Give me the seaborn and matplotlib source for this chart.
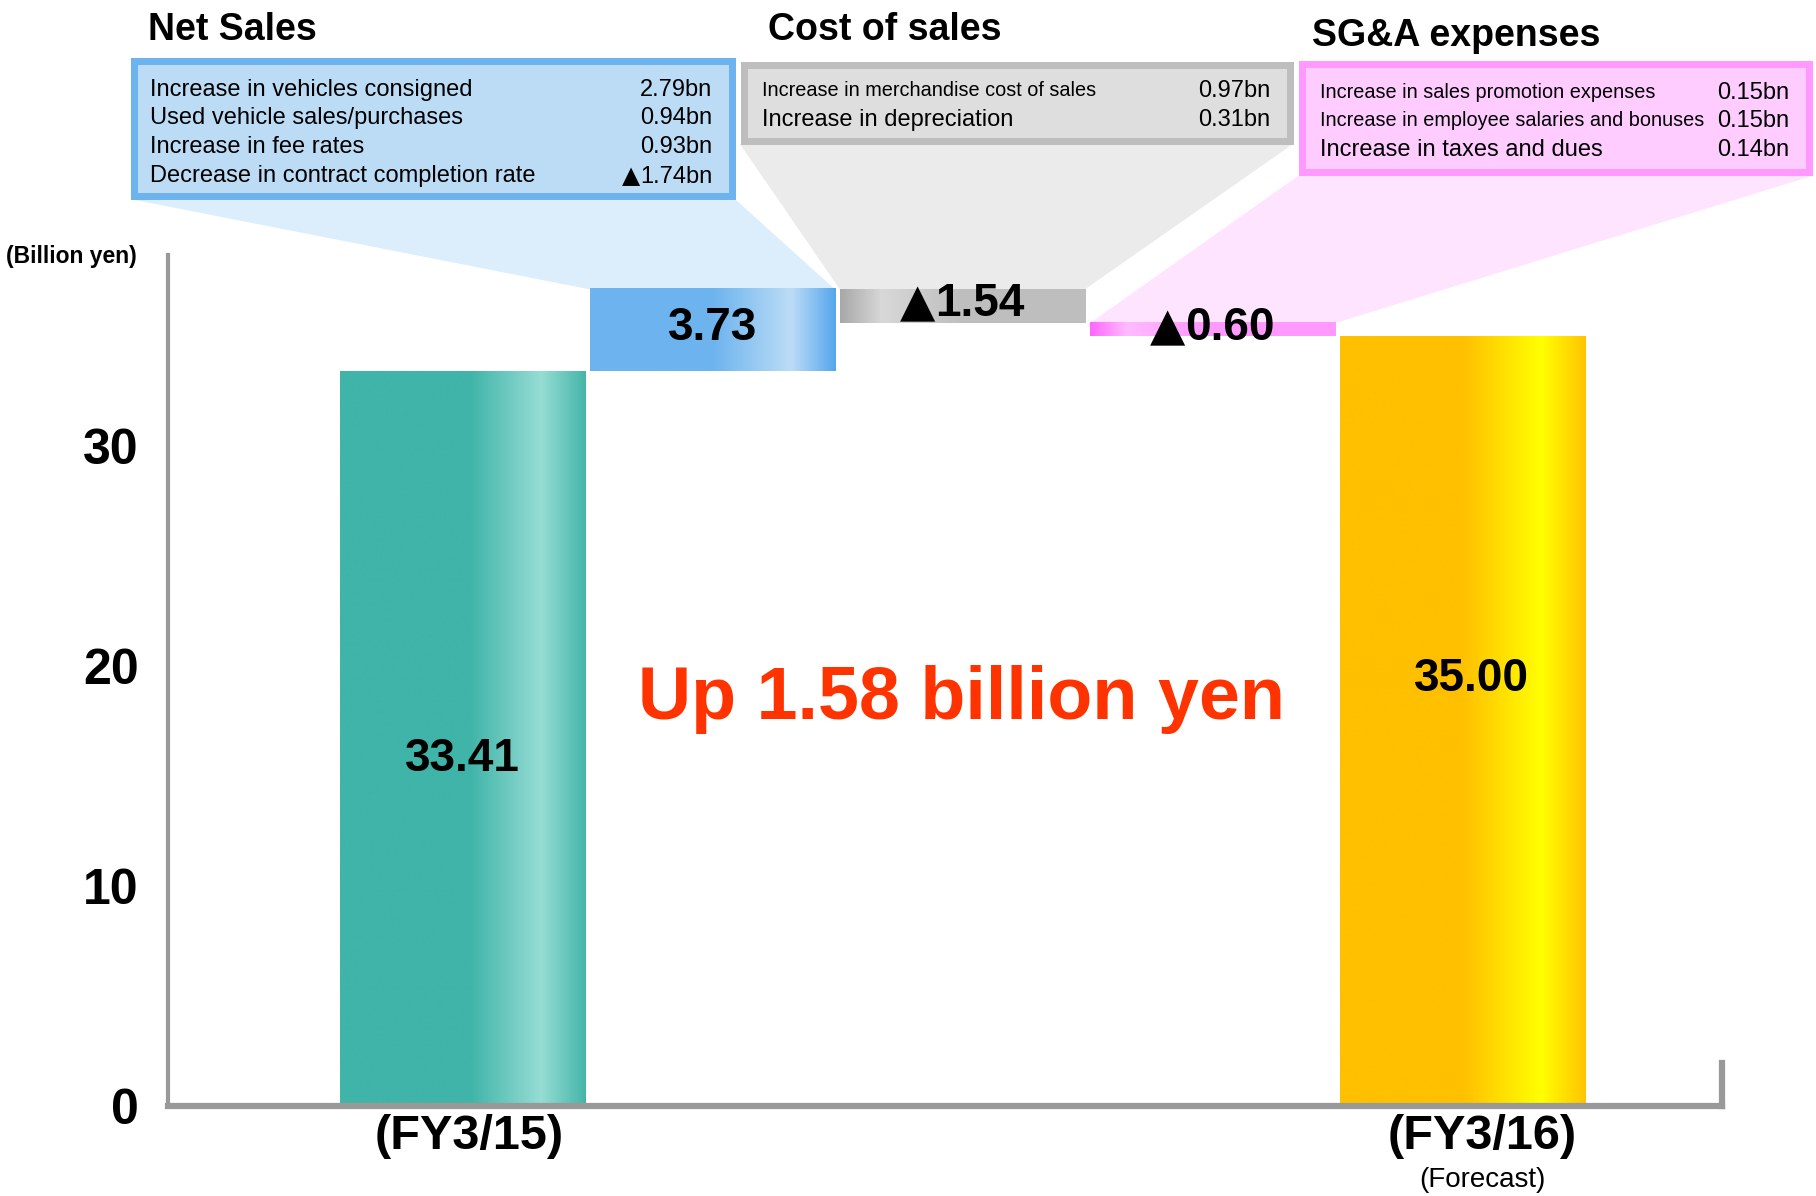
import numpy as np
import pandas as pd
import matplotlib
matplotlib.use("Agg")
import matplotlib.pyplot as plt
from matplotlib.colors import LinearSegmentedColormap
from matplotlib.patches import Polygon, Rectangle
from matplotlib.offsetbox import TextArea, HPacker, AnnotationBbox
import seaborn as sns

# ---- data -------------------------------------------------------------
steps = ["FY3/15", "Net Sales", "Cost of sales", "SG&A expenses", "FY3/16"]
values = [33.41, 3.73, -1.54, -0.60, 35.00]
kinds = ["total", "delta", "delta", "delta", "total"]
bar_labels = ["33.41", "3.73", "▲1.54", "▲0.60", "35.00"]
x_labels = ["(FY3/15)", "(FY3/16)"]
yticks = [0, 10, 20, 30]
unit_label = "(Billion yen)"
change_text = "Up 1.58 billion yen"
forecast_note = "(Forecast)"

net_sales_items = ["Increase in vehicles consigned", "Used vehicle sales/purchases",
                   "Increase in fee rates", "Decrease in contract completion rate"]
net_sales_vals = ["2.79bn", "0.94bn", "0.93bn", "▲1.74bn"]
cost_items = ["Increase in merchandise cost of sales", "Increase in depreciation"]
cost_vals = ["0.97bn", "0.31bn"]
sga_items = ["Increase in sales promotion expenses",
             "Increase in employee salaries and bonuses",
             "Increase in taxes and dues"]
sga_vals = ["0.15bn", "0.15bn", "0.14bn"]

# ---- waterfall geometry ----------------------------------------------
bottoms, heights = [], []
running = 0.0
for v, k in zip(values, kinds):
    if k == "total":
        bottoms.append(0.0)
        heights.append(v)
        running = v
    else:
        bottoms.append(running + min(v, 0.0))
        heights.append(abs(v))
        running += v

# ---- style ------------------------------------------------------------
sns.set_style("white")
regular = ["Liberation Sans", "DejaVu Sans"]
plt.rcParams["font.family"] = regular
plt.rcParams.update({"text.color": "black", "xtick.labelcolor": "black",
                     "ytick.labelcolor": "black"})

W, H = 1816, 1196
def fx(x):
    return x / W
def fy(y):
    return 1 - y / H

gradients = [
    [(0.0, "#40B4A8"), (0.53, "#40B4A8"), (0.82, "#96DDD5"), (1.0, "#45B5A8")],
    [(0.0, "#6DB4EF"), (0.50, "#6DB4EF"), (0.82, "#BCDCF6"), (1.0, "#55A6EC")],
    [(0.0, "#A8A8A8"), (0.17, "#D8D8D8"), (0.50, "#BEBEBE"), (1.0, "#BEBEBE")],
    [(0.0, "#FF66FF"), (0.15, "#FFBBFF"), (0.45, "#FF99FF"), (1.0, "#FF99FF")],
    [(0.0, "#FFC000"), (0.50, "#FFC000"), (0.82, "#FFFF00"), (1.0, "#FFC400")],
]
base_colors = ["#40B4A8", "#6DB4EF", "#BEBEBE", "#FF99FF", "#FFC000"]

fig = plt.figure(figsize=(W / 100, H / 100), dpi=100)
ax = fig.add_axes([fx(168), fy(1106), fx(1722) - fx(168), (1106 - 255) / H])
ax.patch.set_visible(False)

df = pd.DataFrame({"step": steps, "height": heights})
sns.barplot(data=df, x="step", y="height", hue="step", order=steps, hue_order=steps,
            palette=dict(zip(steps, base_colors)), saturation=1, width=0.98,
            legend=False, linewidth=0, ax=ax)

bars = sorted(ax.patches, key=lambda p: p.get_x())
for p, b, h in zip(bars, bottoms, heights):
    p.set_y(b)
    p.set_height(h)

# horizontal shading across each bar
ramp = np.linspace(0, 1, 256).reshape(1, -1)
for i, (p, stops) in enumerate(zip(bars, gradients)):
    cmap = LinearSegmentedColormap.from_list(f"bar{i}", stops)
    x0 = p.get_x(); x1 = x0 + p.get_width()
    y0 = p.get_y(); y1 = y0 + p.get_height()
    ax.imshow(ramp, cmap=cmap, extent=[x0, x1, y0, y1], aspect="auto",
              origin="lower", interpolation="bilinear", zorder=p.get_zorder() + 0.01)

ax.set_xlim(-1.176, 5.037)
ax.set_ylim(0, 38.7)

# spines and ticks
grey = "#999999"
ax.spines["top"].set_visible(False)
ax.spines["left"].set_color(grey)
ax.spines["left"].set_linewidth(3)
ax.spines["bottom"].set_color(grey)
ax.spines["bottom"].set_linewidth(4.5)
ax.spines["right"].set_color(grey)
ax.spines["right"].set_linewidth(4.5)
ax.spines["right"].set_bounds(0, 1.95)

ax.set_yticks(yticks)
ax.set_yticklabels([str(t) for t in yticks], fontsize=36, fontweight="bold")
ax.tick_params(axis="y", direction="in", length=17, width=3, color=grey, pad=21)
ax.set_xticks([0.03, 4.08])
ax.set_xticklabels(x_labels, fontsize=35, fontweight="bold")
ax.tick_params(axis="x", length=0, pad=6)
ax.set_xlabel("")
ax.set_ylabel("")


def label_box(text, size, weight):
    """Text with a leading ▲ drawn in a font whose triangle is cap-height."""
    props = dict(family=regular, fontsize=size, fontweight=weight, color="black")
    if text.startswith("▲"):
        tri = TextArea("▲", textprops=dict(family=["DejaVu Sans"], fontsize=size,
                                           fontweight=weight, color="black"))
        num = TextArea(text[1:], textprops=props)
        return HPacker(children=[tri, num], align="baseline", pad=0, sep=0)
    return TextArea(text, textprops=props)


# value labels on bars
total_label_pos = {0: 15.7, 4: 19.3}
for i, (p, lab) in enumerate(zip(bars, bar_labels)):
    cx = p.get_x() + p.get_width() / 2
    if kinds[i] == "total":
        cy = total_label_pos[i]
    else:
        cy = p.get_y() + p.get_height() / 2
    if i == 4:
        cx += 0.035
    ab = AnnotationBbox(label_box(lab, 33, "bold"), (cx, cy), xycoords="data",
                        box_alignment=(0.5, 0.45), frameon=False, pad=0, zorder=5,
                        annotation_clip=False)
    ax.add_artist(ab)

# ---- breakdown boxes and connectors --------------------------------------
def bar_top(p):
    x0 = p.get_x(); x1 = x0 + p.get_width(); yt = p.get_y() + p.get_height()
    pts = ax.transData.transform([(x0, yt), (x1, yt)])
    return fig.transFigure.inverted().transform(pts)

boxes = [
    # (left, top, right, bottom) in pixels, fill, edge, connector, bar index
    ((130, 58, 735, 199), "#BCDCF6", "#6DB4EF", "#DCEDFC", 1),
    ((740, 61, 1293, 144), "#DEDEDE", "#BEBEBE", "#EBEBEB", 2),
    ((1298, 61, 1812, 176), "#FFCCFF", "#FF99FF", "#FFE4FF", 3),
]
bw = 7
for (l, t, r, b), fc, ec, cc, bi in boxes:
    (bx0, by), (bx1, _) = bar_top(bars[bi])
    poly = Polygon([(fx(l), fy(b)), (fx(r), fy(b)), (bx1, by), (bx0, by)],
                   closed=True, transform=fig.transFigure, facecolor=cc,
                   edgecolor="none", zorder=-1)
    fig.add_artist(poly)
    rect = Rectangle((fx(l + bw / 2), fy(b - bw / 2)),
                     fx(r - l - bw), (b - t - bw) / H,
                     transform=fig.transFigure, facecolor=fc, edgecolor=ec,
                     linewidth=bw * 72 / 100, zorder=2)
    fig.add_artist(rect)

headers = [("Net Sales", 148, 30), ("Cost of sales", 768, 30), ("SG&A expenses", 1312, 36)]
for txt, x, y in headers:
    fig.text(fx(x), fy(y), txt, ha="left", va="center", fontsize=27, fontweight="bold")


def rows(items, vals, left, right, ys, condensed=()):
    for j, (it, vl, y) in enumerate(zip(items, vals, ys)):
        size = 14.3 if j in condensed else 17
        fig.text(fx(left), fy(y), it, ha="left", va="center", fontsize=size,
                 family=regular, zorder=3)
        ab = AnnotationBbox(label_box(vl, 17, "normal"), (fx(right), fy(y)),
                            xycoords="figure fraction", box_alignment=(1, 0.5),
                            frameon=False, pad=0, zorder=3)
        fig.add_artist(ab)

rows(net_sales_items, net_sales_vals, 150, 712, [90, 118, 147, 176])
rows(cost_items, cost_vals, 762, 1270, [91, 120], condensed=(0,))
rows(sga_items, sga_vals, 1320, 1789, [93, 121, 150], condensed=(0, 1))

# ---- free annotations ---------------------------------------------------
fig.text(fx(6), fy(256), unit_label, ha="left", va="center", fontsize=16.5,
         fontweight="bold")
fig.text(fx(962), fy(699), change_text, ha="center", va="center", fontsize=53,
         fontweight="bold", color="#FF3300")
fig.text(fx(1482), fy(1180), forecast_note, ha="center", va="center", fontsize=20)

fig.savefig("out.png", dpi=100)
